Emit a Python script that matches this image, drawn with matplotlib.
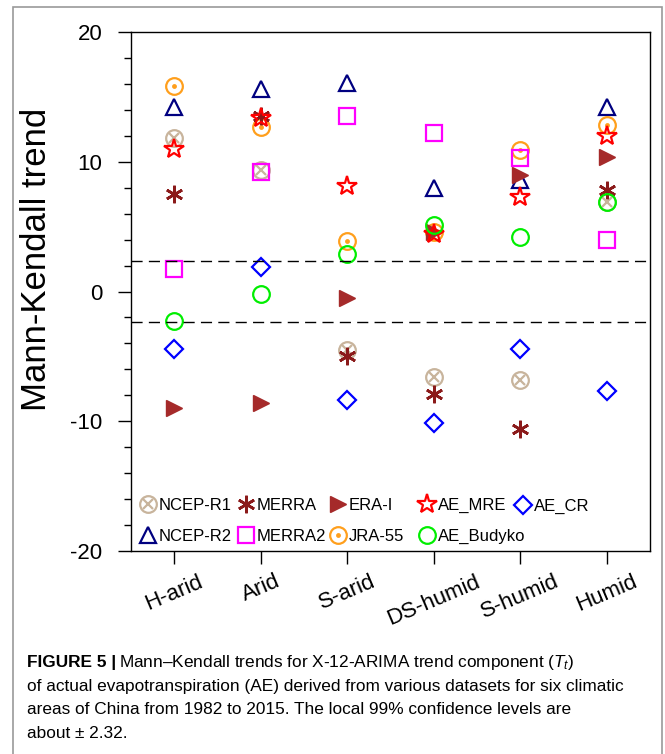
import numpy as np
import matplotlib
matplotlib.use('Agg')
import matplotlib.pyplot as plt
from matplotlib.patches import Rectangle
from matplotlib.legend import Legend

plt.rcParams['font.family'] = ['Liberation Sans', 'DejaVu Sans']
plt.rcParams['axes.unicode_minus'] = False

# climatic areas
areas = ['H-arid', 'Arid', 'S-arid', 'DS-humid', 'S-humid', 'Humid']

# Mann-Kendall trend values
ncep_r1 = [11.8, 9.4, -4.5, -6.6, -6.8, 6.9]
ncep_r2 = [14.2, 15.6, 16.1, 8.0, 8.6, 14.2]
merra = [7.5, 13.5, -5.0, -7.9, -10.6, 7.8]
merra2 = [1.7, 9.2, 13.5, 12.2, 10.3, 4.0]
era_i = [-9.0, -8.6, -0.5, 4.6, 9.0, 10.4]
jra55 = [15.8, 12.7, 3.9, 4.6, 10.9, 12.8]
ae_mre = [11.0, 13.4, 8.1, 4.4, 7.3, 12.0]
ae_cr = [-4.4, 1.9, -8.4, -10.1, -4.4, -7.7]
ae_budyko = [-2.3, -0.2, 2.9, 5.1, 4.2, 6.9]

conf_level = 2.32

x = np.arange(1, len(areas) + 1)

fig = plt.figure(figsize=(6.65, 7.54), dpi=100)

# grey outer frame
fig.patches.append(Rectangle((13 / 665, -0.05), (662 - 13) / 665, 1.05 - 7 / 754,
                             transform=fig.transFigure, fill=False,
                             edgecolor='#9a9a9a', lw=1.2))

ax = fig.add_axes([131 / 665, 1 - 551 / 754, (650 - 131) / 665, (551 - 32) / 754])

ms = 12
mew = 1.6

tan = '#c8b49c'
h_r1a, = ax.plot(x, ncep_r1, 'o', ms=ms, mfc='none', mec=tan, mew=mew, ls='none')
h_r1b, = ax.plot(x, ncep_r1, 'x', ms=ms * 0.6, mec=tan, mew=mew, ls='none')
h_r2, = ax.plot(x, ncep_r2, '^', ms=ms, mfc='none', mec='#000080', mew=mew, ls='none')
h_jra_a, = ax.plot(x, jra55, 'o', ms=ms, mfc='none', mec='#ff9f1c', mew=mew, ls='none')
h_jra_b, = ax.plot(x, jra55, 'o', ms=3.5, mfc='#ff9f1c', mec='#ff9f1c', mew=0, ls='none')
h_merra, = ax.plot(x, merra, marker=(6, 2, 0), ms=ms * 1.05, mec='#8b1a1a', mew=1.9, ls='none')
h_merra2, = ax.plot(x, merra2, 's', ms=ms * 0.95, mfc='none', mec='#ff00ff', mew=mew, ls='none')
h_era, = ax.plot(x, era_i, '>', ms=ms, mfc='#a52a2a', mec='#a52a2a', mew=1, ls='none')
h_mre, = ax.plot(x, ae_mre, '*', ms=ms * 1.2, mfc='none', mec='red', mew=mew, ls='none')
h_cr, = ax.plot(x, ae_cr, 'D', ms=ms * 0.8, mfc='none', mec='blue', mew=mew, ls='none')
h_bud, = ax.plot(x, ae_budyko, 'o', ms=ms, mfc='none', mec='#00ee00', mew=mew, ls='none')

# 99% confidence levels
ax.axhline(conf_level, color='black', lw=1.0, dashes=(8, 4.5))
ax.axhline(-conf_level, color='black', lw=1.0, dashes=(8, 4.5))

ax.set_xlim(0.5, 6.5)
ax.set_ylim(-20, 20)
ax.set_yticks([-20, -10, 0, 10, 20])
ax.set_yticks(np.arange(-18, 20, 2), minor=True)
ax.set_xticks(x)
ax.set_xticklabels(areas, rotation=23, fontsize=16, ha='center')
ax.tick_params(axis='y', which='major', direction='out', length=9.5, width=1, labelsize=16, pad=11)
ax.tick_params(axis='y', which='minor', direction='out', length=5, width=1)
ax.tick_params(axis='x', which='major', direction='out', length=9.5, width=1, pad=5)
for s in ax.spines.values():
    s.set_linewidth(1.0)
ax.set_ylabel('Mann-Kendall trend', fontsize=25)
ax.yaxis.set_label_coords(-0.150, 0.561)

# legend: one small legend per column so the columns line up like the original
leg_cols = [
    ([(h_r1a, h_r1b), h_r2], ['NCEP-R1', 'NCEP-R2']),
    ([h_merra, h_merra2], ['MERRA', 'MERRA2']),
    ([h_era, (h_jra_a, h_jra_b)], ['ERA-I', 'JRA-55']),
    ([h_mre, h_bud], ['AE_MRE', 'AE_Budyko']),
    ([h_cr], ['AE_CR']),
]
col_px = [148, 246, 338, 427, 523]
leg_fs = 12
half_handle = 0.5 * leg_fs * 100 / 72
for (hs, ls), px in zip(leg_cols, col_px):
    yc = 521 if len(hs) == 2 else 506
    leg = Legend(ax, hs, ls, loc='center left',
                 bbox_to_anchor=((px - half_handle - 131) / 519, (551 - yc) / 519),
                 frameon=False, fontsize=leg_fs, handlelength=1.0, handletextpad=0.15,
                 labelspacing=0.93, borderpad=0, borderaxespad=0)
    ax.add_artist(leg)

# caption
cap_font = ['Liberation Sans Narrow', 'Liberation Sans', 'DejaVu Sans']
plt.rcParams['mathtext.fontset'] = 'custom'
plt.rcParams['mathtext.it'] = 'Liberation Sans:italic'
plt.rcParams['mathtext.rm'] = 'Liberation Sans'
cap_size = 12.4
x0 = 27 / 665
bold = fig.text(x0, 1 - 662 / 754, 'FIGURE 5 |', fontsize=cap_size, fontweight='bold',
                family=cap_font, va='center')
fig.canvas.draw()
bb = bold.get_window_extent(fig.canvas.get_renderer())
fig.text(bb.x1 / 665 + 0.004, 1 - 662 / 754,
         'Mann\u2013Kendall trends for X-12-ARIMA trend component ($T_t$)',
         fontsize=cap_size, family=cap_font, va='center')
lines = ['of actual evapotranspiration (AE) derived from various datasets for six climatic',
         'areas of China from 1982 to 2015. The local 99% confidence levels are',
         'about \u00b1 2.32.']
for i, t in enumerate(lines):
    fig.text(x0, 1 - (686 + 23.7 * i) / 754, t, fontsize=cap_size, family=cap_font, va='center')

fig.savefig('out.png', dpi=100)
